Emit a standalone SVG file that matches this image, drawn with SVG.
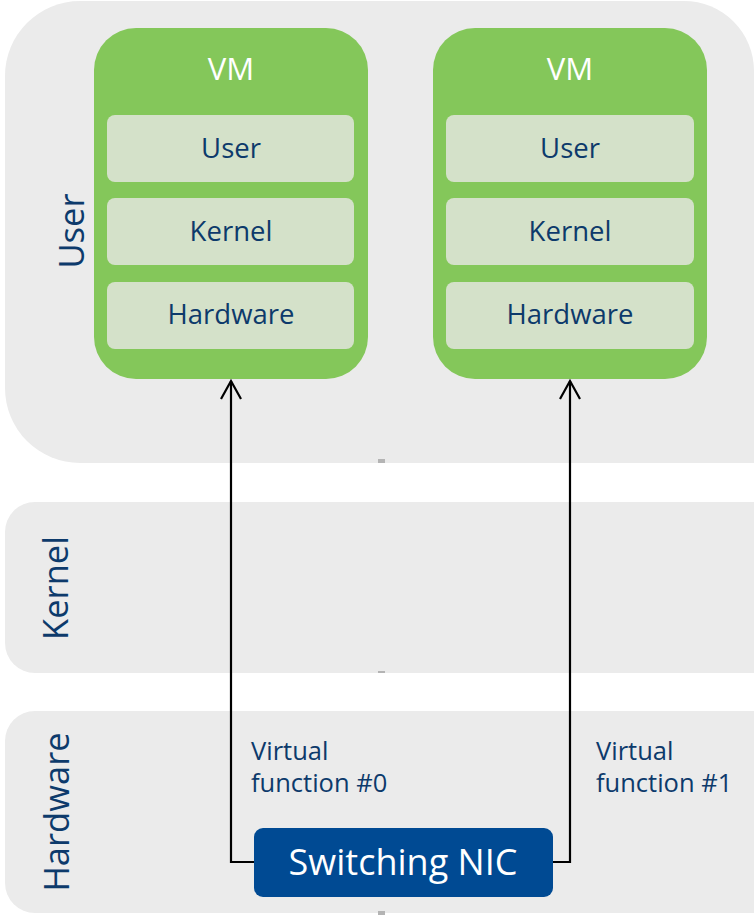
<svg xmlns="http://www.w3.org/2000/svg" width="754" height="916" viewBox="0 0 754 916">
  <style>
    .layer { fill: #ebebeb; }
    .tick { fill: #b4b4b4; }
    .vm { fill: #84c75a; }
    .slot { fill: #d4e1c9; }
    .t { font-family: "Open Sans", "Noto Sans", sans-serif; fill: #0d3a6b; }
    .vmt { font-family: "Open Sans", "Noto Sans", sans-serif; fill: #ffffff; font-size: 31px; text-anchor: middle; }
    .slott { font-size: 27.5px; text-anchor: middle; }
    .side { font-size: 34.5px; text-anchor: middle; }
    .vf { font-size: 25.5px; }
    .link { fill: none; stroke: #000000; stroke-width: 2.2; }
  </style>
  <defs>
    <marker id="head" markerWidth="24" markerHeight="24" refX="20" refY="12" orient="auto" markerUnits="userSpaceOnUse" viewBox="0 0 24 24">
      <path d="M2 2 L20 12 L2 22" fill="none" stroke="#000000" stroke-width="2.2"/>
    </marker>
  </defs>

  <!-- privilege layers -->
  <g id="layer-user">
    <path class="layer" d="M80 1 H684 A70 70 0 0 1 754 71 V463 H80 A75 75 0 0 1 5 388 V76 A75 75 0 0 1 80 1 Z"/>
    <text class="t side" transform="translate(84 231) rotate(-90)">User</text>
    <rect class="tick" x="378" y="459" width="7" height="4"/>
  </g>
  <g id="layer-kernel">
    <path class="layer" d="M35 502 H754 V673 H35 A30 30 0 0 1 5 643 V532 A30 30 0 0 1 35 502 Z"/>
    <text class="t side" transform="translate(68 588) rotate(-90)">Kernel</text>
    <rect class="tick" x="378" y="671" width="7" height="2"/>
  </g>
  <g id="layer-hardware">
    <path class="layer" d="M35 711 H754 V913 H35 A30 30 0 0 1 5 883 V741 A30 30 0 0 1 35 711 Z"/>
    <text class="t side" transform="translate(69 812) rotate(-90)">Hardware</text>
    <rect class="tick" x="378" y="911" width="7" height="4"/>
  </g>

  <!-- virtual machines -->
  <g id="vm-0">
    <rect class="vm" x="94" y="28" width="274" height="351" rx="42"/>
    <text class="vmt" x="231" y="80">VM</text>
    <rect class="slot" x="107" y="115" width="247" height="67" rx="8"/>
    <text class="t slott" x="231" y="158">User</text>
    <rect class="slot" x="107" y="198" width="247" height="67" rx="8"/>
    <text class="t slott" x="231" y="241">Kernel</text>
    <rect class="slot" x="107" y="282" width="247" height="67" rx="8"/>
    <text class="t slott" x="231" y="324">Hardware</text>
  </g>
  <g id="vm-1">
    <rect class="vm" x="433" y="28" width="274" height="351" rx="42"/>
    <text class="vmt" x="570" y="80">VM</text>
    <rect class="slot" x="446" y="115" width="248" height="67" rx="8"/>
    <text class="t slott" x="570" y="158">User</text>
    <rect class="slot" x="446" y="198" width="248" height="67" rx="8"/>
    <text class="t slott" x="570" y="241">Kernel</text>
    <rect class="slot" x="446" y="282" width="248" height="67" rx="8"/>
    <text class="t slott" x="570" y="324">Hardware</text>
  </g>

  <!-- virtual function paths -->
  <g id="connectors">
    <path class="link" d="M254 862 H231 V381" marker-end="url(#head)"/>
    <path class="link" d="M553 862 H570 V381" marker-end="url(#head)"/>
  </g>

  <g id="vf-labels">
    <text class="t vf" x="251" y="760">Virtual</text>
    <text class="t vf" x="251" y="792">function #0</text>
    <text class="t vf" x="596" y="760">Virtual</text>
    <text class="t vf" x="596" y="792">function #1</text>
  </g>

  <g id="nic">
    <rect x="254" y="828" width="299" height="69" rx="9" fill="#004a93"/>
    <text x="403" y="875" font-family="Open Sans, Noto Sans, sans-serif" font-size="36" fill="#ffffff" text-anchor="middle">Switching NIC</text>
  </g>
</svg>
